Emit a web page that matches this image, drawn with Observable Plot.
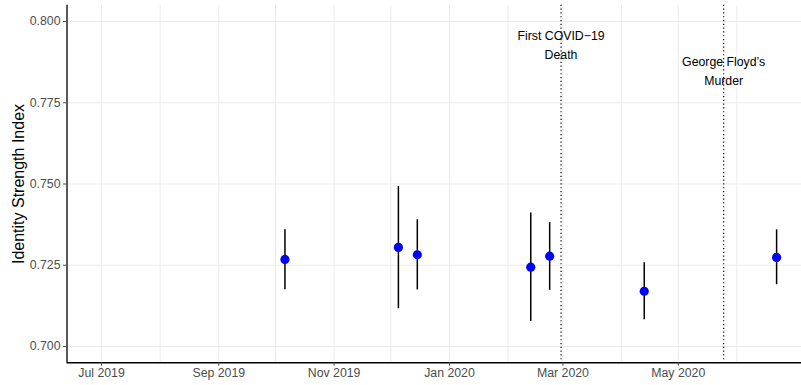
<!DOCTYPE html>
<html>
<head>
<meta charset="utf-8">
<script src="https://cdn.jsdelivr.net/npm/d3@7"></script>
<script src="https://cdn.jsdelivr.net/npm/@observablehq/plot@0.6"></script>
<style>
  body { margin: 0; background: #fff; }
</style>
</head>
<body>
<div id="chart"></div>
<script>
// Survey waves: date, identity strength estimate and its confidence interval
const surveyDates = ["2019-10-06", "2019-12-05", "2019-12-15", "2020-02-13", "2020-02-23", "2020-04-13", "2020-06-22"];
const identityIndex = [0.7268, 0.7305, 0.7282, 0.7244, 0.7278, 0.7170, 0.7274];
const ciLower = [0.7175, 0.7116, 0.7174, 0.7077, 0.7173, 0.7082, 0.7190];
const ciUpper = [0.7359, 0.7492, 0.7390, 0.7411, 0.7381, 0.7258, 0.7359];

// Reference events
const eventDates = ["2020-02-29", "2020-05-25"];
const eventLabels = ["First COVID\u221219\nDeath", "George Floyd\u2019s\nMurder"];
const eventLabelY = [0.7932, 0.7852];

// Axis ticks
const yTicks = [0.700, 0.725, 0.750, 0.775, 0.800];
const xTickDates = ["2019-07-01", "2019-09-01", "2019-11-01", "2020-01-01", "2020-03-01", "2020-05-01"];

const xDomain = [new Date("2019-06-12T18:00Z"), new Date("2020-07-05T04:00Z")];
const yDomain = [0.695, 0.805];

const waves = surveyDates.map((d, i) => ({
  date: new Date(d),
  value: identityIndex[i],
  lo: ciLower[i],
  hi: ciUpper[i]
}));
const events = eventDates.map((d, i) => ({
  date: new Date(d),
  label: eventLabels[i],
  y: eventLabelY[i]
}));
const monthGrid = d3.utcMonth.range(new Date("2019-07-01"), new Date("2020-06-02"));

const chart = Plot.plot({
  width: 801,
  height: 385,
  marginLeft: 66.5,
  marginRight: 0,
  marginTop: 4.75,
  marginBottom: 22.75,
  style: { fontFamily: "'Liberation Sans', Arial, Helvetica, sans-serif", background: "#fff" },
  x: { type: "utc", domain: xDomain },
  y: { domain: yDomain },
  marks: [
    Plot.ruleX(monthGrid, { stroke: "#ebebeb", strokeWidth: 1 }),
    Plot.ruleY(yTicks, { stroke: "#ebebeb", strokeWidth: 1 }),
    Plot.ruleX(events, { x: "date", stroke: "#000", strokeWidth: 1.2, strokeDasharray: "1.2,2.6" }),
    Plot.text(events, { x: "date", y: "y", text: "label", fontSize: 12.3, lineHeight: 1.5, fill: "#000" }),
    Plot.ruleX(waves, { x: "date", y1: "lo", y2: "hi", stroke: "#000", strokeWidth: 1.5 }),
    Plot.dot(waves, { x: "date", y: "value", r: 4.6, fill: "#0000ff", stroke: null }),
    Plot.ruleY([yDomain[0]], { stroke: "#000", strokeWidth: 1.3 }),
    Plot.ruleX([xDomain[0]], { stroke: "#000", strokeWidth: 1.3 }),
    Plot.axisY({
      ticks: yTicks,
      tickFormat: ".3f",
      tickSize: 3.5,
      tickPadding: 3,
      fontSize: 12.3,
      color: "#4d4d4d",
      label: null
    }),
    Plot.axisX({
      ticks: xTickDates.map(d => new Date(d)),
      tickFormat: d3.utcFormat("%b %Y"),
      tickSize: 3.5,
      tickPadding: 2.5,
      fontSize: 12.3,
      color: "#4d4d4d",
      label: null
    }),
    Plot.text(["Identity Strength Index"], {
      frameAnchor: "left",
      textAnchor: "middle",
      rotate: -90,
      dx: -48.5,
      fontSize: 16,
      fill: "#000"
    })
  ]
});

document.getElementById("chart").appendChild(chart);
</script>
</body>
</html>
